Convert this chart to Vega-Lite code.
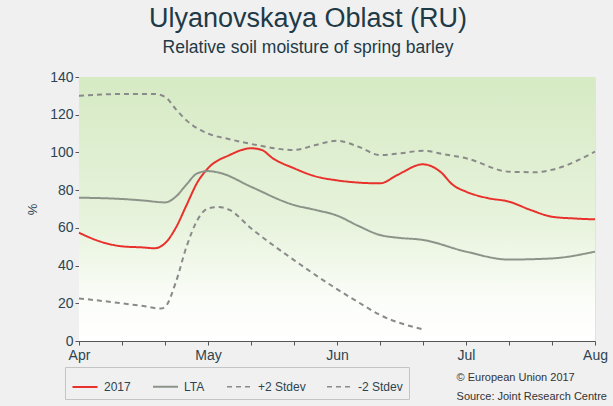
{
  "$schema": "https://vega.github.io/schema/vega-lite/v6.json",
  "autosize": {"type": "none"},
  "width": 516,
  "height": 264,
  "padding": {"left": 79, "top": 77, "right": 18, "bottom": 65},
  "background": "#f0f0f0",
  "title": {
    "text": "Ulyanovskaya Oblast (RU)",
    "subtitle": "Relative soil moisture of spring barley",
    "anchor": "middle",
    "dx": -29,
    "offset": 13,
    "font": "Liberation Sans",
    "fontSize": 27,
    "fontWeight": "normal",
    "color": "#1f3a47",
    "subtitleFont": "Liberation Sans",
    "subtitleFontSize": 17.5,
    "subtitleColor": "#1f3a47",
    "subtitlePadding": 6
  },
  "config": {
    "view": {"stroke": null},
    "font": "Liberation Sans",
    "axis": {
      "labelFont": "Liberation Sans",
      "labelFontSize": 14,
      "labelColor": "#2d4450",
      "domainColor": "#555555",
      "tickColor": "#555555",
      "gridColor": "#d8d8d8",
      "gridOpacity": 0.6
    },
    "axisX": {
      "title": null,
      "values": [0, 1, 2, 3, 4, 5, 6, 7, 8, 9, 10, 11, 12],
      "labelExpr": "datum.value == 0 ? 'Apr' : datum.value == 3 ? 'May' : datum.value == 6 ? 'Jun' : datum.value == 9 ? 'Jul' : datum.value == 12 ? 'Aug' : ''",
      "labelFlush": false,
      "labelOverlap": false,
      "labelPadding": 3,
      "tickSize": 4,
      "grid": true
    },
    "axisY": {
      "titleFontSize": 13,
      "titleFontWeight": "normal",
      "titleColor": "#2d4450",
      "titlePadding": 10,
      "values": [0, 10, 20, 30, 40, 50, 60, 70, 80, 90, 100, 110, 120, 130, 140],
      "labelExpr": "datum.value % 20 == 0 ? datum.label : ''",
      "labelOverlap": false,
      "labelFlush": false,
      "tickSize": 4,
      "labelPadding": 2,
      "grid": true,
      "gridOpacity": 0.3
    }
  },
  "datasets": {
    "series": [
      {"series": "2017", "d": 0, "v": 57.4},
      {"series": "2017", "d": 0.5, "v": 52.7},
      {"series": "2017", "d": 1, "v": 50.2},
      {"series": "2017", "d": 1.5, "v": 49.6},
      {"series": "2017", "d": 1.75, "v": 49.2},
      {"series": "2017", "d": 2, "v": 51.8},
      {"series": "2017", "d": 2.25, "v": 60},
      {"series": "2017", "d": 2.5, "v": 72},
      {"series": "2017", "d": 2.75, "v": 84},
      {"series": "2017", "d": 3, "v": 91.6},
      {"series": "2017", "d": 3.5, "v": 98.6},
      {"series": "2017", "d": 4, "v": 102.2},
      {"series": "2017", "d": 4.25, "v": 101.3},
      {"series": "2017", "d": 4.5, "v": 97},
      {"series": "2017", "d": 5, "v": 91.6},
      {"series": "2017", "d": 5.5, "v": 87.3},
      {"series": "2017", "d": 6, "v": 85.2},
      {"series": "2017", "d": 6.5, "v": 84},
      {"series": "2017", "d": 7, "v": 83.6},
      {"series": "2017", "d": 7.4, "v": 88},
      {"series": "2017", "d": 8, "v": 93.7},
      {"series": "2017", "d": 8.4, "v": 89.8},
      {"series": "2017", "d": 8.7, "v": 82.7},
      {"series": "2017", "d": 9, "v": 79.2},
      {"series": "2017", "d": 9.5, "v": 75.8},
      {"series": "2017", "d": 10, "v": 73.9},
      {"series": "2017", "d": 10.5, "v": 69.5},
      {"series": "2017", "d": 11, "v": 65.9},
      {"series": "2017", "d": 11.5, "v": 65},
      {"series": "2017", "d": 12, "v": 64.5},
      {"series": "LTA", "d": 0, "v": 76},
      {"series": "LTA", "d": 1, "v": 75.3},
      {"series": "LTA", "d": 1.5, "v": 74.5},
      {"series": "LTA", "d": 2, "v": 73.5},
      {"series": "LTA", "d": 2.25, "v": 76.5},
      {"series": "LTA", "d": 2.5, "v": 83},
      {"series": "LTA", "d": 2.75, "v": 88.9},
      {"series": "LTA", "d": 3, "v": 90.1},
      {"series": "LTA", "d": 3.3, "v": 89},
      {"series": "LTA", "d": 4, "v": 81.8},
      {"series": "LTA", "d": 5, "v": 72.1},
      {"series": "LTA", "d": 5.5, "v": 69.5},
      {"series": "LTA", "d": 6, "v": 66.5},
      {"series": "LTA", "d": 6.5, "v": 61},
      {"series": "LTA", "d": 7, "v": 56.2},
      {"series": "LTA", "d": 7.4, "v": 54.8},
      {"series": "LTA", "d": 8, "v": 53.6},
      {"series": "LTA", "d": 9, "v": 47.4},
      {"series": "LTA", "d": 10, "v": 43.2},
      {"series": "LTA", "d": 11, "v": 43.8},
      {"series": "LTA", "d": 12, "v": 47.4},
      {"series": "+2 Stdev", "d": 0, "v": 130},
      {"series": "+2 Stdev", "d": 1, "v": 131},
      {"series": "+2 Stdev", "d": 1.75, "v": 131},
      {"series": "+2 Stdev", "d": 2, "v": 129.5},
      {"series": "+2 Stdev", "d": 2.25, "v": 123},
      {"series": "+2 Stdev", "d": 2.5, "v": 117},
      {"series": "+2 Stdev", "d": 2.75, "v": 112.8},
      {"series": "+2 Stdev", "d": 3, "v": 110},
      {"series": "+2 Stdev", "d": 3.5, "v": 107},
      {"series": "+2 Stdev", "d": 4, "v": 104.5},
      {"series": "+2 Stdev", "d": 5, "v": 101.3},
      {"series": "+2 Stdev", "d": 5.5, "v": 103.9},
      {"series": "+2 Stdev", "d": 6, "v": 106.2},
      {"series": "+2 Stdev", "d": 6.5, "v": 103},
      {"series": "+2 Stdev", "d": 7, "v": 98.6},
      {"series": "+2 Stdev", "d": 7.5, "v": 99.6},
      {"series": "+2 Stdev", "d": 8, "v": 100.9},
      {"series": "+2 Stdev", "d": 8.5, "v": 99},
      {"series": "+2 Stdev", "d": 9, "v": 96.9},
      {"series": "+2 Stdev", "d": 10, "v": 89.8},
      {"series": "+2 Stdev", "d": 10.6, "v": 89.5},
      {"series": "+2 Stdev", "d": 11, "v": 90.8},
      {"series": "+2 Stdev", "d": 12, "v": 100.4},
      {"series": "-2 Stdev", "d": 0, "v": 22.6},
      {"series": "-2 Stdev", "d": 1, "v": 20},
      {"series": "-2 Stdev", "d": 1.5, "v": 18.5},
      {"series": "-2 Stdev", "d": 1.9, "v": 17.2},
      {"series": "-2 Stdev", "d": 2, "v": 18},
      {"series": "-2 Stdev", "d": 2.25, "v": 31},
      {"series": "-2 Stdev", "d": 2.5, "v": 50},
      {"series": "-2 Stdev", "d": 2.75, "v": 64},
      {"series": "-2 Stdev", "d": 3, "v": 70.3},
      {"series": "-2 Stdev", "d": 3.25, "v": 71},
      {"series": "-2 Stdev", "d": 3.5, "v": 69.5},
      {"series": "-2 Stdev", "d": 4, "v": 59.8},
      {"series": "-2 Stdev", "d": 5, "v": 42.9},
      {"series": "-2 Stdev", "d": 6, "v": 27.5},
      {"series": "-2 Stdev", "d": 6.5, "v": 20.5},
      {"series": "-2 Stdev", "d": 7, "v": 13.8},
      {"series": "-2 Stdev", "d": 8, "v": 6.2}
    ],
    "bg": [{"d": 0, "d2": 12, "v": 0, "v2": 140}],
    "note": [{"txt": "© European Union 2017\nSource: Joint Research Centre"}]
  },
  "layer": [
    {
      "data": {"name": "bg"},
      "mark": {
        "type": "rect",
        "color": {
          "gradient": "linear",
          "x1": 0, "y1": 0, "x2": 0, "y2": 1,
          "stops": [
            {"offset": 0, "color": "#d6eac4"},
            {"offset": 0.55, "color": "#e7f3dc"},
            {"offset": 0.85, "color": "#fbfdf9"},
            {"offset": 1, "color": "#ffffff"}
          ]
        }
      },
      "encoding": {
        "x": {"field": "d", "type": "quantitative", "scale": {"domain": [0, 12], "nice": false}, "title": null},
        "x2": {"field": "d2"},
        "y": {"field": "v", "type": "quantitative", "scale": {"domain": [0, 140], "nice": false}, "title": "%"},
        "y2": {"field": "v2"}
      }
    },
    {
      "data": {"name": "series"},
      "mark": {"type": "line", "interpolate": "monotone", "strokeWidth": 2},
      "encoding": {
        "x": {"field": "d", "type": "quantitative", "title": null},
        "y": {"field": "v", "type": "quantitative", "title": "%"},
        "color": {
          "field": "series", "type": "nominal",
          "scale": {
            "domain": ["2017", "LTA", "+2 Stdev", "-2 Stdev"],
            "range": ["#e8312c", "#8c948a", "#8a8a8a", "#8a8a8a"]
          },
          "legend": {
            "title": null,
            "orient": "none",
            "legendX": -14,
            "legendY": 290,
            "direction": "horizontal",
            "strokeColor": "#c4c4c4",
            "fillColor": "#f0f0f0",
            "padding": 6,
            "symbolType": "stroke",
            "symbolSize": 625,
            "symbolStrokeWidth": 2,
            "labelFont": "Liberation Sans",
            "labelFontSize": 12,
            "labelColor": "#2d4450",
            "columnPadding": 18,
            "labelOffset": 5
          }
        },
        "strokeDash": {
          "field": "series", "type": "nominal",
          "scale": {
            "domain": ["2017", "LTA", "+2 Stdev", "-2 Stdev"],
            "range": [[1, 0], [1, 0], [5, 4], [5, 4]]
          },
          "legend": null
        },
        "strokeWidth": {
          "field": "series", "type": "nominal",
          "scale": {
            "domain": ["2017", "LTA", "+2 Stdev", "-2 Stdev"],
            "range": [2.2, 1.5, 1.5, 1.5]
          },
          "legend": null
        }
      }
    },
    {
      "data": {"name": "note"},
      "mark": {
        "type": "text",
        "align": "left",
        "baseline": "top",
        "lineBreak": "\n",
        "lineHeight": 19,
        "fontSize": 11,
        "font": "Liberation Sans",
        "color": "#333333"
      },
      "encoding": {
        "x": {"datum": 8.78, "type": "quantitative", "title": null},
        "y": {"datum": -16.5, "type": "quantitative", "title": "%"},
        "text": {"field": "txt"}
      }
    }
  ]
}
